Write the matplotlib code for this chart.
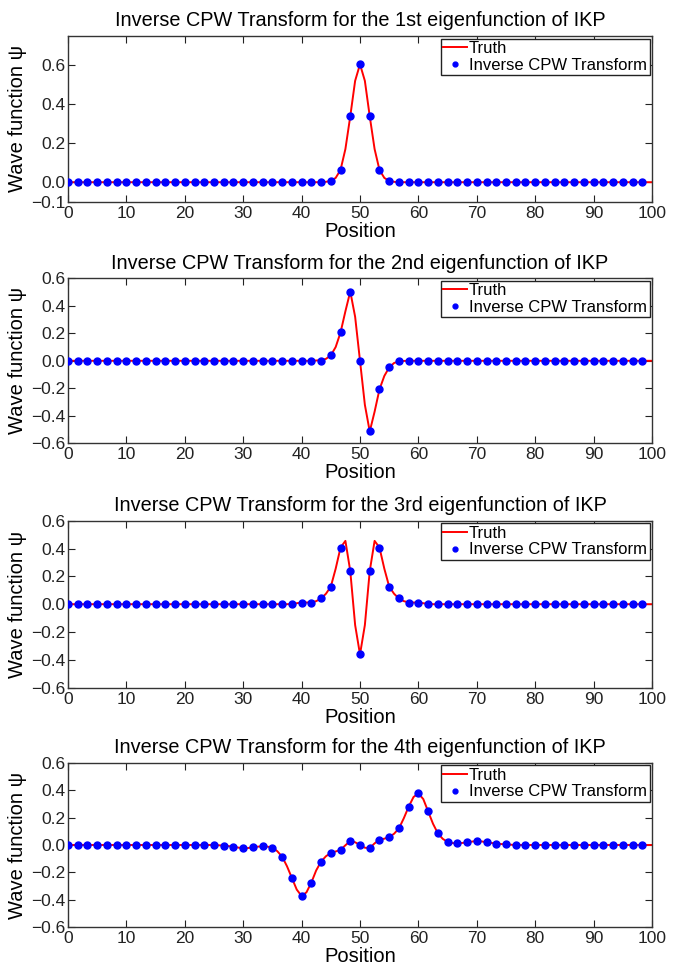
import numpy as np
import matplotlib
matplotlib.use("Agg")
import matplotlib.pyplot as plt
from matplotlib.ticker import FuncFormatter

plt.rcParams['font.family'] = ['Liberation Sans', 'DejaVu Sans']

# ---------------- data ----------------
titles = [
    "Inverse CPW Transform for the 1st eigenfunction of IKP",
    "Inverse CPW Transform for the 2nd eigenfunction of IKP",
    "Inverse CPW Transform for the 3rd eigenfunction of IKP",
    "Inverse CPW Transform for the 4th eigenfunction of IKP",
]

# sample positions of the inverse CPW transform (60 samples, step 100/60)
dot_x = np.arange(60) * 100.0 / 60.0

dots1 = [0.0] * 27 + [0.007, 0.063, 0.338, 0.605, 0.338, 0.063, 0.007] + [0.0] * 26
dots2 = [0.0] * 27 + [0.039, 0.206, 0.504, 0.0, -0.514, -0.208, -0.048] + [0.0] * 26
dots3 = [0.0] * 24 + [0.012, 0.012, 0.041, 0.126, 0.407, 0.238, -0.361,
                      0.238, 0.407, 0.126, 0.041, 0.012, 0.012] + [0.0] * 23
dots4 = [0.0] * 12 + [0.0, 0.0, 0.0, 0.0, -0.005, -0.012, -0.024, -0.017, -0.010,
                      -0.020, -0.085, -0.240, -0.370, -0.274, -0.121, -0.058, -0.036,
                      0.029, 0.000, -0.022, 0.039, 0.058, 0.121, 0.279, 0.376, 0.245,
                      0.085, 0.022, 0.012, 0.019, 0.029] + [0.020, 0.010, 0.005] + [0.0] * 14

# truth curves: start of the active segment and values every 100/120 units
truth1_start = 43.333
truth1 = [0.0, 0.002, 0.007, 0.022, 0.063, 0.17, 0.338, 0.52, 0.605, 0.52, 0.338,
          0.17, 0.063, 0.022, 0.007, 0.002, 0.0]
truth2_start = 41.667
truth2 = [0.0, 0.002, 0.005, 0.014, 0.039, 0.10, 0.206, 0.36, 0.504, 0.32, 0.0,
          -0.32, -0.514, -0.37, -0.208, -0.11, -0.048, -0.016, -0.004, -0.001, 0.0]
truth3_start = 36.667
truth3 = [0.0, 0.0, 0.002, 0.007, 0.012, 0.012, 0.013, 0.022, 0.041, 0.075, 0.126,
          0.255, 0.407, 0.455, 0.238, -0.15, -0.361, -0.15, 0.238, 0.455, 0.407,
          0.255, 0.126, 0.075, 0.041, 0.022, 0.013, 0.012, 0.012, 0.007, 0.002, 0.0, 0.0]
truth4_start = 25.0
truth4 = [0.0, -0.002, -0.005, -0.008, -0.012, -0.019, -0.024, -0.022, -0.017, -0.012,
          -0.010, -0.012, -0.020, -0.045, -0.085, -0.155, -0.240, -0.325, -0.372, -0.345,
          -0.274, -0.185, -0.121, -0.082, -0.058, -0.047, -0.036, -0.002, 0.029, 0.020,
          0.000, -0.020, -0.022, 0.012, 0.039, 0.046, 0.058, 0.082, 0.121, 0.195,
          0.279, 0.350, 0.376, 0.335, 0.245, 0.155, 0.085, 0.045, 0.022, 0.014,
          0.012, 0.015, 0.019, 0.025, 0.029, 0.026, 0.020, 0.015, 0.010, 0.007,
          0.005, 0.002, 0.0]

xticks = [0, 10, 20, 30, 40, 50, 60, 70, 80, 90, 100]
yticks_first = [-0.1, 0.0, 0.2, 0.4, 0.6]
yticks_rest = [-0.6, -0.4, -0.2, 0.0, 0.2, 0.4, 0.6]

dots_all = [dots1, dots2, dots3, dots4]
truth_all = [(truth1_start, truth1), (truth2_start, truth2),
             (truth3_start, truth3), (truth4_start, truth4)]

# ---------------- layout ----------------
W, H = 682, 965
fig = plt.figure(figsize=(W / 100, H / 100), dpi=100)
fig.patch.set_facecolor('white')

axes_px = [(36.0, 201.7), (278.3, 443.3), (520.7, 687.7), (762.7, 927.3)]
left_px, right_px = 68.0, 652.0

fmt = FuncFormatter(lambda v, p: ("%.1f" % v).replace('-', '\u2212'))

for i in range(4):
    top, bot = axes_px[i]
    ax = fig.add_axes([left_px / W, 1 - bot / H, (right_px - left_px) / W, (bot - top) / H])
    start, vals = truth_all[i]
    seg_x = start + np.arange(len(vals)) * 100.0 / 120.0
    tx = np.concatenate([[0.0], seg_x, [100.0]])
    ty = np.concatenate([[0.0], vals, [0.0]])
    ax.plot(tx, ty, color='#ff0000', lw=1.4, label='Truth', zorder=2)
    ax.plot(dot_x, dots_all[i], linestyle='none', marker='o', ms=5.0,
            color='#0000ff', mec='#0000ff', label='Inverse CPW Transform', zorder=3)

    ax.set_xlim(0, 100)
    ax.set_xticks(xticks)
    if i == 0:
        ax.set_ylim(-0.1, 0.75)
        ax.set_yticks(yticks_first)
    else:
        ax.set_ylim(-0.6, 0.6)
        ax.set_yticks(yticks_rest)
    ax.yaxis.set_major_formatter(fmt)
    ax.tick_params(direction='in', top=True, right=True, length=5, width=0.8,
                   labelsize=12.5, colors='#222222')
    ax.tick_params(axis='x', pad=3)
    ax.tick_params(axis='y', pad=2)
    for s in ax.spines.values():
        s.set_linewidth(1.0)
        s.set_color('#333333')

    ax.set_title(titles[i], fontsize=14.3, pad=7)
    ax.set_xlabel('Position', fontsize=14.5, labelpad=0.5)
    ax.set_ylabel('Wave function \u03c8', fontsize=14.5, labelpad=3)

    leg = ax.legend(loc='upper right', fontsize=12, handlelength=1.4,
                    handletextpad=0.15, borderpad=0.15, labelspacing=0.1,
                    borderaxespad=0.15, fancybox=False, framealpha=1,
                    edgecolor='#222222', markerscale=0.7)
    leg.get_frame().set_linewidth(1.0)

fig.savefig('out.png', dpi=100, facecolor='white')
